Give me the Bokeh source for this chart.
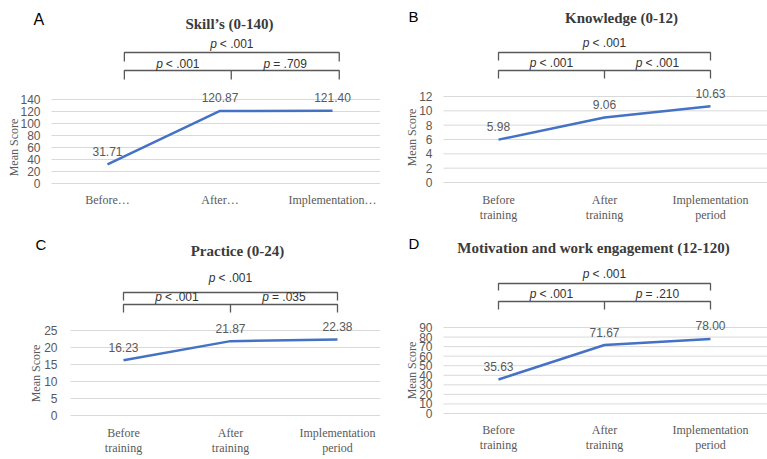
import math
from bokeh.plotting import figure
from bokeh.layouts import column, row
from bokeh.models import Range1d, FixedTicker
from bokeh.core.properties import value
from bokeh.embed import file_html
from bokeh.resources import INLINE

# ---------------- data ----------------
letters = ["A", "B", "C", "D"]
titles = ["Skill\u2019s (0-140)", "Knowledge (0-12)", "Practice (0-24)",
          "Motivation and work engagement (12-120)"]
stages_short = ["Before\u2026", "After\u2026", "Implementation\u2026"]
stages_long = ["Before\ntraining", "After\ntraining", "Implementation\nperiod"]

skills = [31.71, 120.87, 121.40]
knowledge = [5.98, 9.06, 10.63]
practice = [16.23, 21.87, 22.38]
motivation = [35.63, 71.67, 78.00]

skills_ticks = [0, 20, 40, 60, 80, 100, 120, 140]
knowledge_ticks = [0, 2, 4, 6, 8, 10, 12]
practice_ticks = [0, 5, 10, 15, 20, 25]
motivation_ticks = [0, 10, 20, 30, 40, 50, 60, 70, 80, 90]

p_overall = ["< .001", "< .001", "< .001", "< .001"]
p_before_after = ["< .001", "< .001", "< .001", "< .001"]
p_after_impl = ["= .709", "< .001", "= .035", "= .210"]

# ---------------- layout (panel pixel geometry) ----------------
layouts = [
    dict(w=380, h=230, left=51, zero=183, top=99, c0=107, c2=332,
         bx=[0.15, 1.10, 2.06], ob=(52, 61), ib=(70, 79), ot=43, it=63,
         title=(229, 23), letter=(33, 19, "16px"), mean=(13, 147), ystand=11, xstand=1),
    dict(w=387, h=230, left=63, zero=182, top=96, c0=118, c2=330,
         bx=[0, 1, 2], ob=(52, 60), ib=(70, 78), ot=42, it=62,
         title=(241, 17), letter=(28, 15.5, "15px"), mean=(31, 137), ystand=11, xstand=2),
    dict(w=380, h=229, left=70, zero=185, top=100, c0=123, c2=337,
         bx=[0, 1, 2], ob=(62, 70), ib=(74, 82), ot=47, it=66,
         title=(237, 20), letter=(35, 13.5, "15px"), mean=(35, 143), ystand=13, xstand=2),
    dict(w=387, h=229, left=63, zero=183, top=97, c0=118, c2=330,
         bx=[0, 1, 2], ob=(53, 60), ib=(71, 79), ot=43, it=63,
         title=(213, 17), letter=(28, 12.5, "15px"), mean=(31, 140), ystand=11, xstand=1),
]

LINE = "#4472C4"
GRID = "#d9d9d9"
TXT = "#595959"
BRK = "#595959"
PTXT = "#333333"
PAD = 8  # frame extends this far below the zero line so the "0" label is not clipped


def make_panel(i, vals, ticks, cats):
    L = layouts[i]
    W, H = L["w"], L["h"]
    fl = L["left"]
    fb = L["zero"] + PAD
    ppu = (L["zero"] - L["top"]) / ticks[-1]
    ppx = (L["c2"] - L["c0"]) / 2.0
    x_left = (fl - L["c0"]) / ppx  # data x at the left edge of the plotting area
    x_right = (W - L["c0"]) / ppx

    p = figure(width=W, height=H, output_backend="svg", toolbar_location=None,
               x_range=Range1d(-L["c0"] / ppx, x_right),
               y_range=Range1d(-PAD / ppu, L["zero"] / ppu),
               min_border_left=0, min_border_right=0, min_border_top=0,
               min_border_bottom=H - fb)
    p.extra_x_ranges = {"px": Range1d(0, W)}
    p.extra_y_ranges = {"py": Range1d(fb, 0)}
    p.outline_line_color = None

    # y axis pinned at the left edge of the plotting area
    ya = p.yaxis[0]
    ya.fixed_location = x_left
    ya.ticker = FixedTicker(ticks=ticks)
    ya.axis_line_color = None
    ya.major_tick_line_color = None
    ya.major_tick_out = 0
    ya.major_tick_in = 0
    ya.minor_tick_line_color = None
    ya.major_label_standoff = L["ystand"]
    ya.major_label_text_font = "Liberation Sans"
    ya.major_label_text_font_size = "12px"
    ya.major_label_text_color = TXT

    xa = p.xaxis[0]
    xa.ticker = FixedTicker(ticks=[0, 1, 2])
    xa.major_label_overrides = {0: cats[0], 1: cats[1], 2: cats[2]}
    xa.axis_line_color = None
    xa.major_tick_line_color = None
    xa.major_tick_out = 0
    xa.major_tick_in = 0
    xa.minor_tick_line_color = None
    xa.major_label_standoff = L["xstand"]
    xa.major_label_text_font = "Liberation Serif"
    xa.major_label_text_font_size = "12px"
    xa.major_label_text_line_height = 1.1
    xa.major_label_text_color = TXT
    p.xgrid.visible = False
    p.ygrid.visible = False

    # horizontal gridlines at the y ticks, spanning the plotting area only
    p.segment(x0=[x_left] * len(ticks), x1=[x_right] * len(ticks),
              y0=ticks, y1=ticks, line_color=GRID, line_width=1, level="underlay")

    # data line and labels
    xs = [0, 1, 2]
    p.line(xs, vals, line_color=LINE, line_width=2.5)
    p.text(xs, vals, text=["%.2f" % v for v in vals], y_offset=-13,
           text_align="center", text_baseline="middle",
           text_font=value("Liberation Sans"), text_font_size="12px", text_color=TXT)

    # y axis title
    p.text([L["mean"][0]], [L["mean"][1]], text=["Mean Score"], angle=math.pi / 2,
           x_range_name="px", y_range_name="py",
           text_align="center", text_baseline="middle",
           text_font=value("Liberation Serif"), text_font_size="12px", text_color=TXT)

    # panel letter
    p.text([L["letter"][0]], [L["letter"][1]], text=[letters[i]],
           x_range_name="px", y_range_name="py",
           text_align="left", text_baseline="alphabetic",
           text_font=value("Liberation Sans"), text_font_size=L["letter"][2],
           text_color="black")

    # title
    p.text([L["title"][0]], [L["title"][1]], text=[titles[i]],
           x_range_name="px", y_range_name="py",
           text_align="center", text_baseline="middle", text_font_style="bold",
           text_font=value("Liberation Serif"), text_font_size="15px", text_color="#3b3b3b")

    # significance brackets
    bx = L["bx"]
    ob, ib = L["ob"], L["ib"]
    p.multi_line(
        xs=[[bx[0], bx[0], bx[2], bx[2]], [bx[0], bx[0], bx[2], bx[2]], [bx[1], bx[1]]],
        ys=[[ob[1], ob[0], ob[0], ob[1]], [ib[1], ib[0], ib[0], ib[1]], [ib[0], ib[1]]],
        y_range_name="py", line_color=BRK, line_width=1.3)
    tx = [(bx[0] + bx[2]) / 2, (bx[0] + bx[1]) / 2, (bx[1] + bx[2]) / 2]
    ty = [L["ot"], L["it"], L["it"]]
    rest = [p_overall[i], p_before_after[i], p_after_impl[i]]
    p.text(tx, ty, text=["p", "p", "p"], x_offset=-15, y_range_name="py",
           text_align="right", text_baseline="middle", text_font_style="italic",
           text_font=value("Liberation Sans"), text_font_size="12px", text_color=PTXT)
    p.text(tx, ty, text=rest, x_offset=-12, y_range_name="py",
           text_align="left", text_baseline="middle",
           text_font=value("Liberation Sans"), text_font_size="12px", text_color=PTXT)
    return column(p, spacing=0)


pA = make_panel(0, skills, skills_ticks, stages_short)
pB = make_panel(1, knowledge, knowledge_ticks, stages_long)
pC = make_panel(2, practice, practice_ticks, stages_long)
pD = make_panel(3, motivation, motivation_ticks, stages_long)

layout = column(row(pA, pB, spacing=0), row(pC, pD, spacing=0), spacing=0)
open("out.html", "w").write(file_html(layout, INLINE))
